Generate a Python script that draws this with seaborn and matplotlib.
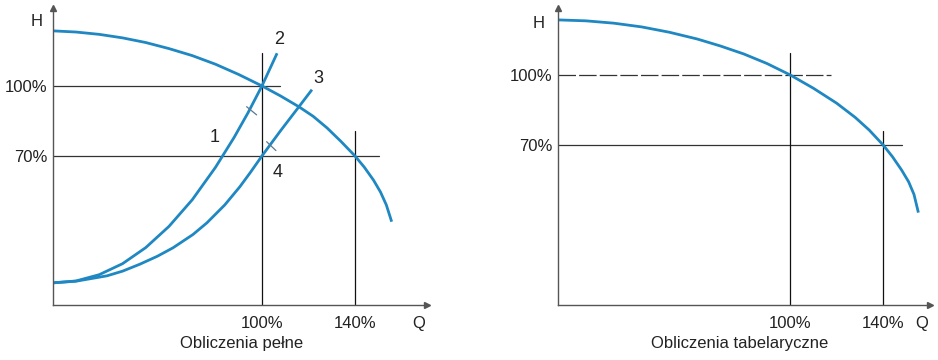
import matplotlib
matplotlib.use("Agg")
import matplotlib.pyplot as plt
import seaborn as sns
import pandas as pd

# ---------------- data (Q and H in % of nominal) ----------------
# left panel: "Obliczenia pełne"
pump_left_q = [10.1, 20, 30, 40, 50, 60, 70, 80, 90, 100, 108, 116, 122, 128, 134, 140, 144, 148, 151, 153.5, 155.8]
pump_left_h = [123.6, 123.1, 122.1, 120.6, 118.6, 116.0, 113.0, 109.3, 104.9, 100.0, 95.7, 91.0, 87.0, 82.0, 76.2, 70.0, 65.2, 59.6, 54.5, 49.0, 41.8]

sys1_q = [10.1, 20, 30, 40, 50, 60, 70, 80, 88, 94, 100, 106.5]
sys1_h = [15.6, 16.4, 19.1, 23.8, 30.7, 39.8, 51.2, 65.1, 77.9, 88.5, 100.0, 114.0]

sys3_q = [10.1, 20, 33.3, 40, 47.5, 55, 61.7, 70.3, 76.3, 84, 90.5, 95, 100, 108, 116.3, 121.5]
sys3_h = [15.6, 16.3, 18.6, 20.6, 23.6, 27.0, 30.6, 36.3, 41.3, 49.0, 56.8, 62.9, 70.0, 80.8, 91.6, 98.4]

# small cross-ticks on curves 1 and 3
tick1_q = [93.4, 97.7]
tick1_h = [91.1, 87.6]
tick3_q = [102.0, 106.0]
tick3_h = [76.1, 72.3]

# right panel: "Obliczenia tabelaryczne"
pump_right_q = [0, 12, 24, 36, 48, 60, 70, 80, 90, 100, 110, 120, 128, 134, 140, 144, 148, 151, 153.3, 155.2]
pump_right_h = [123.6, 123.2, 122.2, 120.6, 118.3, 115.4, 112.4, 109.0, 104.9, 100.0, 94.3, 87.9, 81.8, 76.4, 70.0, 65.0, 59.2, 54.2, 48.8, 41.0]

x_ticks = [100, 140]
x_tick_labels = ["100%", "140%"]
y_ticks = [70, 100]
y_tick_labels = ["70%", "100%"]

curve_labels = ["1", "2", "3", "4"]
curve_label_q = [79.8, 107.3, 124.1, 106.9]
curve_label_h = [78.1, 119.7, 103.0, 63.1]

titles = ["Obliczenia pełne", "Obliczenia tabelaryczne"]

# ---------------- style ----------------
sns.set_theme(style="white")
plt.rcParams["font.family"] = ["Liberation Sans", "DejaVu Sans"]
plt.rcParams["axes.linewidth"] = 1.0

BLUE = "#1f88c2"
DARK = "#333333"
SPINE = "#555555"
TXT = "#222222"
FS = 12

W, H = 938, 360
fig = plt.figure(figsize=(W / 100, H / 100), dpi=100)


def px_axes(x0, y_top, x1, y_bot):
    return fig.add_axes([x0 / W, 1 - y_bot / H, (x1 - x0) / W, (y_bot - y_top) / H])


def style_axes(ax):
    for s in ["top", "right"]:
        ax.spines[s].set_visible(False)
    for s in ["left", "bottom"]:
        ax.spines[s].set_color(SPINE)
        ax.spines[s].set_linewidth(1.0)
    ax.plot(1, 0, ">", color=SPINE, ms=4, transform=ax.transAxes, clip_on=False)
    ax.plot(0, 1, "^", color=SPINE, ms=4, transform=ax.transAxes, clip_on=False)
    ax.set_xticks(x_ticks)
    ax.set_xticklabels(x_tick_labels, fontsize=FS)
    ax.set_yticks(y_ticks)
    ax.set_yticklabels(y_tick_labels, fontsize=FS)
    ax.tick_params(axis="both", length=0, colors=TXT)
    ax.tick_params(axis="x", pad=8)
    ax.tick_params(axis="y", pad=4)
    ax.set_xlabel("")
    ax.set_ylabel("")
    ax.grid(False)


def curve(ax, q, h, lw=2.0, color=BLUE):
    df = pd.DataFrame({"Q": q, "H": h})
    sns.lineplot(data=df, x="Q", y="H", ax=ax, color=color, lw=lw,
                 sort=False, estimator=None, solid_capstyle="butt")


# ---------------- left panel ----------------
axL = px_axes(53, 8, 427, 305)
axL.set_xlim(10.1, 171.0)
axL.set_ylim(6.1, 133.4)

axL.plot([10.1, 107.7], [100, 100], color=DARK, lw=0.9)
axL.plot([10.1, 150.3], [70, 70], color=DARK, lw=0.9)
axL.plot([100, 100], [6.1, 114.1], color="#111111", lw=0.9)
axL.plot([140, 140], [6.1, 80.7], color="#111111", lw=0.9)

curve(axL, pump_left_q, pump_left_h)
curve(axL, sys1_q, sys1_h)
curve(axL, sys3_q, sys3_h)
axL.plot(tick1_q, tick1_h, color="#5a7a90", lw=0.9)
axL.plot(tick3_q, tick3_h, color="#5a7a90", lw=0.9)

for t, q, h in zip(curve_labels, curve_label_q, curve_label_h):
    axL.text(q, h, t, fontsize=FS + 1, ha="center", va="center", color=TXT)

style_axes(axL)
axL.text(-0.045, 0.953, "H", transform=axL.transAxes, fontsize=FS,
         ha="center", va="center", color=TXT)
axL.text(0.978, -0.062, "Q", transform=axL.transAxes, fontsize=FS,
         ha="center", va="center", color=TXT)
axL.text(0.505, -0.128, titles[0], transform=axL.transAxes, fontsize=FS,
         ha="center", va="center", color=TXT)

# ---------------- right panel ----------------
axR = px_axes(558, 8, 930, 305)
axR.set_xlim(0.0, 160.2)
axR.set_ylim(1.4, 128.7)

axR.plot([0, 117.6], [100, 100], color=DARK, lw=0.9, dashes=(14, 2.5))
axR.plot([0, 148.2], [70, 70], color=DARK, lw=0.9)
axR.plot([100, 100], [1.4, 109.4], color="#111111", lw=0.9)
axR.plot([140, 140], [1.4, 76.0], color="#111111", lw=0.9)

curve(axR, pump_right_q, pump_right_h)

style_axes(axR)
axR.text(-0.051, 0.948, "H", transform=axR.transAxes, fontsize=FS,
         ha="center", va="center", color=TXT)
axR.text(0.977, -0.062, "Q", transform=axR.transAxes, fontsize=FS,
         ha="center", va="center", color=TXT)
axR.text(0.487, -0.128, titles[1], transform=axR.transAxes, fontsize=FS,
         ha="center", va="center", color=TXT)

fig.savefig("out.png", dpi=100, facecolor="white")
